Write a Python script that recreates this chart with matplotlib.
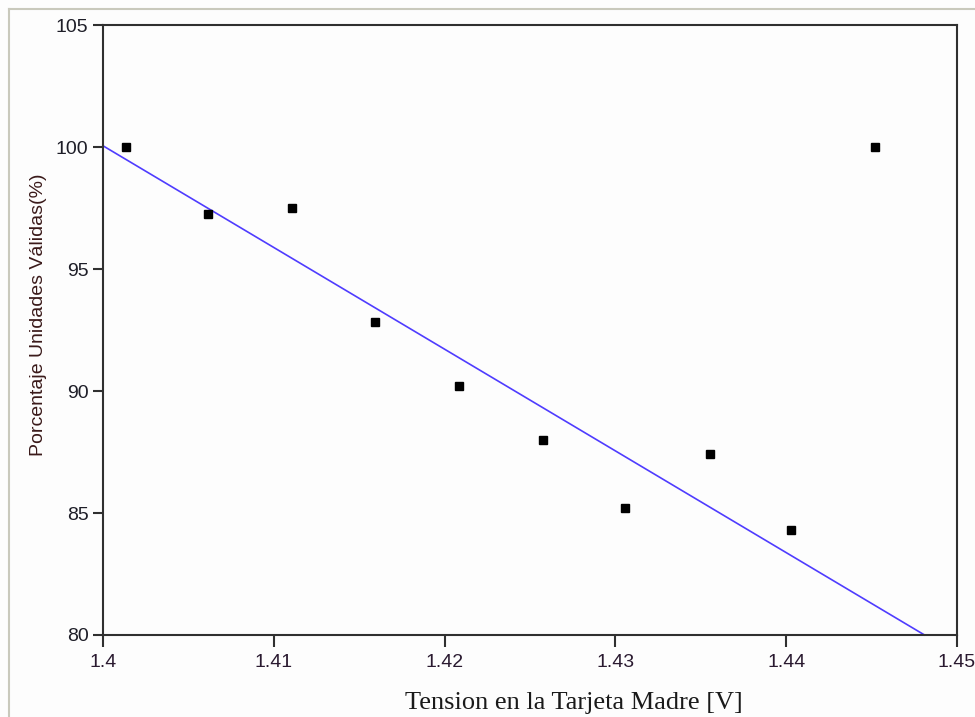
import matplotlib
matplotlib.use("Agg")
import matplotlib.pyplot as plt
from matplotlib.lines import Line2D

# Measured board voltage vs. percentage of valid units
tension = [1.40135, 1.40617, 1.41108, 1.41590, 1.42085, 1.42577, 1.43058, 1.43551, 1.44031, 1.44520]
porcentaje = [100.0, 97.27, 97.52, 92.84, 90.22, 87.99, 85.22, 87.42, 84.31, 100.0]

# Linear trend line endpoints
fit_x = [1.400, 1.4481]
fit_y = [100.05, 80.0]

x_ticks = [1.40, 1.41, 1.42, 1.43, 1.44, 1.45]
x_tick_labels = ["1.4", "1.41", "1.42", "1.43", "1.44", "1.45"]
y_ticks = [80, 85, 90, 95, 100, 105]

fig = plt.figure(figsize=(9.75, 7.17), dpi=100, facecolor="#fdfdfd")
ax = fig.add_axes([103 / 975, 82 / 717, 854 / 975, 610 / 717])
ax.set_facecolor("#fdfdfd")

# window frame lines
fig.add_artist(Line2D([9 / 975, 1.0], [1 - 9 / 717, 1 - 9 / 717], transform=fig.transFigure,
                      color="#c9c9bc", lw=1.5))
fig.add_artist(Line2D([9 / 975, 9 / 975], [0.0, 1 - 9 / 717], transform=fig.transFigure,
                      color="#c9c9bc", lw=1.5))

ax.plot(fit_x, fit_y, color="#4f3cff", lw=1.2, zorder=2, clip_on=False)
ax.plot(tension, porcentaje, linestyle="none", marker="s", markersize=5.2,
        color="black", zorder=3)

ax.set_xlim(1.40, 1.45)
ax.set_ylim(80, 105)
ax.set_xticks(x_ticks)
ax.set_xticklabels(x_tick_labels)
ax.set_yticks(y_ticks)

for s in ax.spines.values():
    s.set_color("#303030")
    s.set_linewidth(1.5)

ax.tick_params(axis="x", direction="out", length=8.5, width=1.5, color="#303030",
               pad=5, labelcolor="#2a1a30")
ax.tick_params(axis="y", direction="out", length=7.5, width=1.5, color="#303030",
               pad=3, labelcolor="#1e1e28")
for lab in ax.get_xticklabels() + ax.get_yticklabels():
    lab.set_fontfamily("Liberation Sans")
    lab.set_fontsize(14)

ax.set_xlabel("Tension en la Tarjeta Madre [V]", family="Liberation Serif", fontsize=19,
              color="#1a1a1a")
ax.xaxis.label.set_va("baseline")
ax.xaxis.set_label_coords(0.5515, -0.1213)

ax.set_ylabel("Porcentaje Unidades Válidas(%)", family="Liberation Sans", fontsize=14,
              color="#3a1a1a")
ax.yaxis.label.set_va("center")
ax.yaxis.set_label_coords(-0.0755, 0.5246)

fig.savefig("out.png", dpi=100, facecolor=fig.get_facecolor())
